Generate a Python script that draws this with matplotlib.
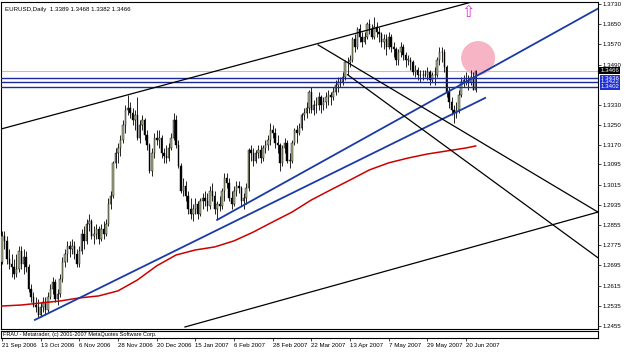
import matplotlib
matplotlib.use('Agg')
import matplotlib.pyplot as plt
from matplotlib.patches import Ellipse, Rectangle

# daily EURUSD bars, prices in 1e-4 units (12710 -> 1.2710)
opens = [12710, 12810, 12790, 12720, 12700, 12690, 12660, 12680, 12750, 12700,
         12730, 12690, 12600, 12570, 12540, 12530, 12500, 12530, 12550, 12520,
         12570, 12600, 12630, 12560, 12580, 12640, 12710, 12740, 12770, 12760,
         12770, 12740, 12700, 12750, 12820, 12790, 12860, 12870, 12810, 12820,
         12840, 12800, 12840, 12820, 12860, 12940, 12970, 13100, 13140, 13160,
         13190, 13250, 13310, 13320, 13300, 13270, 13290, 13200, 13250, 13270,
         13210, 13170, 13070, 13140, 13200, 13190, 13200, 13140, 13130, 13120,
         13160, 13200, 13270, 13170, 13090, 12990, 13010, 12970, 12920, 12900,
         12920, 12940, 12900, 12950, 12960, 12950, 12930, 12990, 12970, 12920,
         12940, 12930, 12990, 13040, 13020, 12960, 12940, 12990, 13010, 13000,
         12950, 12960, 13000, 13150, 13140, 13110, 13140, 13150, 13120, 13160,
         13170, 13190, 13230, 13220, 13180, 13170, 13100, 13160, 13180, 13110,
         13110, 13180, 13230, 13220, 13240, 13290, 13300, 13320, 13380, 13310,
         13330, 13330, 13360, 13330, 13340, 13360, 13370, 13360, 13380, 13410,
         13420, 13420, 13440, 13500, 13500, 13510, 13590, 13560, 13630, 13600,
         13580, 13600, 13650, 13630, 13600, 13640, 13620, 13610, 13580, 13590,
         13560, 13600, 13560, 13550, 13510, 13540, 13560, 13530, 13510, 13510,
         13500, 13460, 13470, 13450, 13450, 13450, 13450, 13460, 13430, 13450,
         13450, 13510, 13540, 13540, 13480, 13380, 13340, 13310, 13300, 13310,
         13370, 13420, 13430, 13430, 13420, 13440, 13389]
highs = [12830, 12830, 12810, 12760, 12740, 12720, 12740, 12770, 12770, 12760,
         12750, 12700, 12620, 12590, 12570, 12560, 12550, 12570, 12570, 12590,
         12620, 12650, 12640, 12600, 12660, 12730, 12760, 12790, 12790, 12800,
         12790, 12760, 12770, 12840, 12850, 12880, 12900, 12880, 12850, 12860,
         12850, 12860, 12870, 12880, 12960, 12990, 13110, 13160, 13180, 13210,
         13270, 13330, 13370, 13340, 13320, 13310, 13360, 13270, 13290, 13280,
         13230, 13180, 13160, 13220, 13230, 13230, 13210, 13160, 13170, 13180,
         13220, 13300, 13290, 13190, 13100, 13040, 13030, 12990, 12960, 12940,
         12960, 12950, 12960, 12980, 12990, 12980, 13010, 13020, 12990, 12950,
         12970, 13000, 13060, 13060, 13040, 12990, 13010, 13030, 13030, 13010,
         12980, 13020, 13160, 13170, 13160, 13150, 13170, 13170, 13170, 13190,
         13210, 13260, 13250, 13240, 13210, 13180, 13170, 13200, 13190, 13140,
         13190, 13240, 13250, 13260, 13300, 13320, 13340, 13390, 13400, 13350,
         13360, 13380, 13370, 13360, 13380, 13390, 13380, 13400, 13430, 13440,
         13440, 13460, 13510, 13520, 13530, 13600, 13610, 13640, 13650, 13620,
         13620, 13660, 13670, 13650, 13680, 13660, 13640, 13620, 13610, 13610,
         13620, 13610, 13580, 13560, 13550, 13580, 13570, 13540, 13530, 13520,
         13510, 13490, 13480, 13470, 13470, 13470, 13480, 13470, 13460, 13480,
         13520, 13560, 13560, 13550, 13490, 13400, 13360, 13330, 13340, 13390,
         13440, 13450, 13460, 13450, 13470, 13460, 13468]
lows = [12700, 12760, 12700, 12680, 12650, 12640, 12650, 12670, 12680, 12660,
        12670, 12590, 12550, 12530, 12510, 12490, 12490, 12510, 12500, 12510,
        12560, 12580, 12550, 12540, 12570, 12630, 12690, 12710, 12730, 12740,
        12720, 12690, 12690, 12740, 12760, 12780, 12830, 12800, 12780, 12800,
        12780, 12790, 12800, 12810, 12850, 12920, 12960, 13080, 13100, 13130,
        13180, 13220, 13290, 13280, 13250, 13230, 13190, 13180, 13230, 13190,
        13150, 13060, 13050, 13120, 13170, 13160, 13120, 13100, 13100, 13110,
        13150, 13190, 13160, 13080, 12980, 12970, 12950, 12900, 12880, 12870,
        12900, 12880, 12890, 12920, 12930, 12910, 12920, 12950, 12900, 12880,
        12910, 12920, 12950, 13000, 12950, 12920, 12930, 12970, 12980, 12930,
        12920, 12940, 12990, 13110, 13090, 13100, 13120, 13100, 13110, 13140,
        13150, 13170, 13200, 13160, 13140, 13070, 13090, 13140, 13100, 13080,
        13100, 13170, 13180, 13210, 13230, 13270, 13280, 13300, 13300, 13290,
        13300, 13310, 13300, 13310, 13320, 13330, 13330, 13350, 13370, 13380,
        13400, 13410, 13430, 13450, 13480, 13500, 13540, 13550, 13580, 13560,
        13570, 13590, 13610, 13590, 13590, 13600, 13580, 13560, 13550, 13530,
        13550, 13540, 13520, 13490, 13490, 13520, 13510, 13480, 13490, 13470,
        13450, 13440, 13430, 13420, 13430, 13440, 13430, 13410, 13420, 13410,
        13440, 13490, 13500, 13460, 13360, 13320, 13290, 13260, 13280, 13300,
        13360, 13400, 13410, 13390, 13410, 13390, 13382]
closes = [12810, 12790, 12720, 12700, 12690, 12660, 12680, 12750, 12700, 12730,
          12690, 12600, 12570, 12540, 12530, 12500, 12530, 12550, 12520, 12570,
          12600, 12630, 12560, 12580, 12640, 12710, 12740, 12770, 12760, 12770,
          12740, 12700, 12750, 12820, 12790, 12860, 12870, 12810, 12820, 12840,
          12800, 12840, 12820, 12860, 12940, 12970, 13100, 13140, 13160, 13190,
          13250, 13310, 13320, 13300, 13270, 13290, 13200, 13250, 13270, 13210,
          13170, 13070, 13140, 13200, 13190, 13200, 13140, 13130, 13120, 13160,
          13200, 13270, 13170, 13090, 12990, 13010, 12970, 12920, 12900, 12920,
          12940, 12900, 12950, 12960, 12950, 12930, 12990, 12970, 12920, 12940,
          12930, 12990, 13040, 13020, 12960, 12940, 12990, 13010, 13000, 12950,
          12960, 13000, 13150, 13140, 13110, 13140, 13150, 13120, 13160, 13170,
          13190, 13230, 13220, 13180, 13170, 13100, 13160, 13180, 13110, 13110,
          13180, 13230, 13220, 13240, 13290, 13300, 13320, 13380, 13310, 13330,
          13330, 13360, 13330, 13340, 13360, 13370, 13360, 13380, 13410, 13420,
          13420, 13440, 13500, 13500, 13510, 13590, 13560, 13630, 13600, 13580,
          13600, 13650, 13630, 13600, 13640, 13620, 13610, 13580, 13590, 13560,
          13600, 13560, 13550, 13510, 13540, 13560, 13530, 13510, 13510, 13500,
          13460, 13470, 13450, 13450, 13450, 13450, 13460, 13430, 13450, 13450,
          13510, 13540, 13540, 13480, 13380, 13340, 13310, 13300, 13310, 13370,
          13420, 13430, 13430, 13420, 13440, 13390, 13466]

# moving average read every 8th bar
ma_idx = [0, 8, 16, 24, 32, 40, 48, 56, 64, 72, 80, 88, 96, 104, 112, 120,
          128, 136, 144, 152, 160, 168, 176, 184, 192, 196]
ma_val = [12534, 12538, 12546, 12554, 12566, 12574, 12594, 12637, 12693, 12736,
          12756, 12768, 12792, 12827, 12867, 12906, 12954, 12994, 13033, 13073,
          13101, 13120, 13136, 13148, 13160, 13168]

# trendlines as (bar index, price) pairs
blue_long = ([13.6, 199.9], [1.2479, 1.3358])
blue_ray = ([89.0, 246.6], [1.2875, 1.3712])
chan_up = ([-0.4, 193.6], [1.3235, 1.3736])
chan_dn = ([75.7, 246.6], [1.2451, 1.2906])
desc_a = ([130.8, 246.6], [1.3568, 1.2906])
desc_b = ([143.0, 246.6], [1.3450, 1.2725])
hlines = [1.3436, 1.3422, 1.3402]
bid = 1.3466

ytick_vals = [1.3730, 1.3650, 1.3570, 1.3490, 1.3330, 1.3250, 1.3170, 1.3095,
              1.3015, 1.2935, 1.2855, 1.2775, 1.2695, 1.2615, 1.2535, 1.2455]
date_idx = [0, 16, 32, 48, 64, 80, 96, 112, 128, 144, 160, 176, 192]
date_lbl = ['21 Sep 2006', '13 Oct 2006', '6 Nov 2006', '28 Nov 2006',
            '20 Dec 2006', '15 Jan 2007', '6 Feb 2007', '28 Feb 2007',
            '22 Mar 2007', '13 Apr 2007', '7 May 2007', '29 May 2007',
            '20 Jun 2007']

plt.rcParams['font.family'] = ['Liberation Sans', 'DejaVu Sans']
FS = 4.4
W, H = 625, 352
fig = plt.figure(figsize=(W / 100, H / 100), dpi=100)
ax = fig.add_axes([1 / W, 1 - 329 / H, 597 / W, 327 / H])
sub = fig.add_axes([1 / W, 1 - 338 / H, 597 / W, 7 / H])

xlim = (-0.41, 246.6)
ax.set_xlim(*xlim)
ax.set_ylim(1.2443, 1.3738)

# bid line, pink marker circle
ax.axhline(bid, color='#c0c0c0', lw=0.8, zorder=1)
ax.add_patch(Ellipse((197, 1.3516), 34 / 2.4167, 34 / 2525, color='#f6b4c4',
                     lw=0, zorder=1))

# candles
for i in range(len(closes)):
    o, h, l, c = opens[i] / 1e4, highs[i] / 1e4, lows[i] / 1e4, closes[i] / 1e4
    ax.vlines(i, l, h, color='black', lw=0.6, zorder=3)
    lo, hi = min(o, c), max(o, c)
    fc = '#a7b486' if c >= o else 'black'
    ax.add_patch(Rectangle((i - 0.3, lo), 0.6, max(hi - lo, 0.00005),
                           facecolor=fc, edgecolor='black', lw=0.3, zorder=4))

ax.plot(ma_idx, [v / 1e4 for v in ma_val], color='#cc0000', lw=1.1, zorder=5)

for h in hlines:
    ax.axhline(h, color='#1a2a9a', lw=1.0, zorder=6)
for xs, ys in (blue_long, blue_ray):
    ax.plot(xs, ys, color='#1a3aa8', lw=1.3, zorder=6)
for xs, ys in (chan_up, chan_dn, desc_a, desc_b):
    ax.plot(xs, ys, color='black', lw=0.9, zorder=6)

ax.text(192.8, 1.3697, '\u21e7', color='#d838d8', fontsize=11.5,
        family='DejaVu Sans', ha='center', va='center', zorder=7)
ax.text(0.006, 0.985, 'EURUSD,Daily  1.3389 1.3468 1.3382 1.3466',
        transform=ax.transAxes, fontsize=FS, va='top', ha='left')

ax.yaxis.tick_right()
ax.set_yticks(ytick_vals)
ax.set_yticklabels([f'{v:.4f}' for v in ytick_vals])
ax.tick_params(axis='y', direction='out', length=2, width=0.5, labelsize=FS, pad=1.5)
ax.set_xticks([])
for s in ax.spines.values():
    s.set_linewidth(0.8)

# price boxes on the right scale
tr = ax.get_yaxis_transform()
ax.text(1.004, bid, f'{bid:.4f}', transform=tr, fontsize=FS, color='white',
        va='center', ha='left', clip_on=False,
        bbox=dict(boxstyle='square,pad=0.15', fc='black', ec='none'))
for h in hlines:
    ax.text(1.004, h, f'{h:.4f}', transform=tr, fontsize=FS, color='white',
            va='center', ha='left', clip_on=False,
            bbox=dict(boxstyle='square,pad=0.1', fc='#1f2fd8', ec='none'))

# bottom strip with time scale
sub.set_xlim(*xlim)
sub.set_ylim(0, 1)
sub.set_yticks([])
sub.set_xticks(date_idx)
sub.set_xticklabels(date_lbl)
sub.tick_params(axis='x', direction='out', length=2, width=0.5, labelsize=FS, pad=1.5)
for lbl in sub.get_xticklabels():
    lbl.set_horizontalalignment('left')
for s in sub.spines.values():
    s.set_linewidth(0.8)
sub.text(0.004, 0.45, 'FRAU - Metatrader, (c) 2001-2007 MetaQuotes Software Corp.',
         transform=sub.transAxes, fontsize=4.0, va='center', ha='left')

fig.savefig('out.png', dpi=100)
